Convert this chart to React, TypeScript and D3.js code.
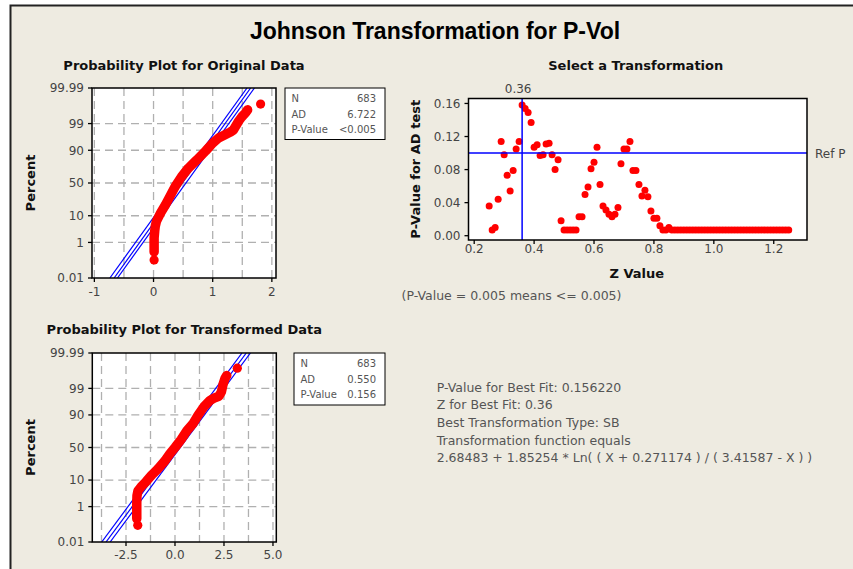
import * as d3 from "d3";

// ---- probability plot, original data ----
const origX = [0.01, 0.01, 0.01, 0.02, 0.03, 0.05, 0.12, 0.2, 0.29, 0.37, 0.47, 0.59, 0.73, 0.88, 1.0, 1.1, 1.2, 1.3, 1.35, 1.4, 1.44, 1.49, 1.55, 1.59];
const origPct = [0.35, 0.75, 1.58, 3.0, 4.6, 6.8, 12.1, 19.5, 31.9, 45.2, 59.3, 72.1, 81.6, 89.5, 94.1, 96.1, 97.0, 97.7, 98.1, 98.84, 99.24, 99.51, 99.69, 99.79];
const origOutX = [0.01, 1.81];
const origOutPct = [0.13, 99.9];
const origFitLo = [-0.738, -0.666, -0.61]; // x at 0.01 %
const origFitHi = [1.58, 1.641, 1.706]; // x at 99.99 %
const origStats = ["683", "6.722", "<0.005"];
const origTicks = [-1, 0, 1, 2];
const origGrid = [-1, -0.5, 0, 0.5, 1, 1.5, 2];

// ---- probability plot, transformed data ----
const transX = [-1.95, -1.95, -1.95, -1.94, -1.89, -1.73, -1.48, -1.17, -0.87, -0.51, -0.26, 0, 0.31, 0.61, 0.92, 1.17, 1.48, 1.79, 2.04, 2.24, 2.37, 2.45, 2.55, 2.64];
const transPct = [0.25, 0.62, 1.46, 2.87, 4.4, 6.1, 8.9, 14.2, 20.1, 30.1, 40.3, 50, 62.1, 74.6, 82.6, 89.6, 94.6, 96.8, 97.5, 97.8, 98.6, 99.34, 99.67, 99.77];
const transOutX = [-1.9, 3.18];
const transOutPct = [0.11, 99.91];
const transFitLo = [-3.74, -3.52, -3.31];
const transFitHi = [3.42, 3.64, 3.85];
const transStats = ["683", "0.550", "0.156"];
const transTicks = [-2.5, 0, 2.5, 5];
const transGrid = [-3.75, -2.5, -1.25, 0, 1.25, 2.5, 3.75, 5];

const pctTicks = [0.01, 1, 10, 50, 90, 99, 99.99];
const statLabels = ["N", "AD", "P-Value"];

// ---- select a transformation ----
const zValues = [
  0.25, 0.26, 0.27, 0.28, 0.29, 0.3, 0.31, 0.32, 0.33, 0.34, 0.35, 0.36, 0.37, 0.38, 0.39, 0.4, 0.41, 0.42, 0.43, 0.44,
  0.45, 0.46, 0.47, 0.48, 0.49, 0.5, 0.51, 0.52, 0.53, 0.54, 0.55, 0.56, 0.57, 0.58, 0.59, 0.6, 0.61, 0.62, 0.63, 0.64,
  0.65, 0.66, 0.67, 0.68, 0.69, 0.7, 0.71, 0.72, 0.73, 0.74, 0.75, 0.76, 0.77, 0.78, 0.79, 0.8, 0.81, 0.82, 0.83, 0.84,
  0.85, 0.86, 0.87, 0.88, 0.89, 0.9, 0.91, 0.92, 0.93, 0.94, 0.95, 0.96, 0.97, 0.98, 0.99, 1.0, 1.01, 1.02, 1.03, 1.04,
  1.05, 1.06, 1.07, 1.08, 1.09, 1.1, 1.11, 1.12, 1.13, 1.14, 1.15, 1.16, 1.17, 1.18, 1.19, 1.2, 1.21, 1.22, 1.23, 1.24,
  1.25,
];
const pValues = [
  0.036, 0.007, 0.01, 0.044, 0.114, 0.098, 0.073, 0.054, 0.079, 0.105, 0.114, 0.158, 0.154, 0.149, 0.137, 0.107, 0.11, 0.097, 0.098, 0.111,
  0.112, 0.098, 0.08, 0.092, 0.018, 0.007, 0.007, 0.007, 0.007, 0.007, 0.023, 0.023, 0.05, 0.059, 0.081, 0.089, 0.107, 0.062, 0.036, 0.031,
  0.026, 0.023, 0.026, 0.034, 0.087, 0.105, 0.105, 0.114, 0.079, 0.079, 0.062, 0.048, 0.055, 0.047, 0.03, 0.021, 0.021, 0.012, 0.007, 0.007,
  0.01, 0.007, 0.007, 0.007, 0.007, 0.007, 0.007, 0.007, 0.007, 0.007, 0.007, 0.007, 0.007, 0.007, 0.007, 0.007, 0.007, 0.007, 0.007, 0.007,
  0.007, 0.007, 0.007, 0.007, 0.007, 0.007, 0.007, 0.007, 0.007, 0.007, 0.007, 0.007, 0.007, 0.007, 0.007, 0.007, 0.007, 0.007, 0.007, 0.007,
  0.007,
];
const zTicks = [0.2, 0.4, 0.6, 0.8, 1.0, 1.2];
const pTicks = [0, 0.04, 0.08, 0.12, 0.16];
const bestZ = 0.36;
const refP = 0.1;

const fitText = [
  "P-Value for Best Fit: 0.156220",
  "Z for Best Fit: 0.36",
  "Best Transformation Type: SB",
  "Transformation function equals",
  "2.68483 + 1.85254 * Ln( ( X + 0.271174 ) / ( 3.41587 - X ) )",
];

const BG = "#eeebe1";
const FONT = "'DejaVu Sans', sans-serif";
const TICK = "#444";

// inverse normal cdf (Acklam)
function probit(p: number) {
  const a = [-39.69683028665376, 220.9460984245205, -275.9285104469687, 138.357751867269, -30.66479806614716, 2.506628277459239];
  const b = [-54.47609879822406, 161.5858368580409, -155.6989798598866, 66.80131188771972, -13.28068155288572];
  const c = [-0.007784894002430293, -0.3223964580411365, -2.400758277161838, -2.549732539343734, 4.374664141464968, 2.938163982698783];
  const d = [0.007784695709041462, 0.3224671290700398, 2.445134137142996, 3.754408661907416];
  const lo = 0.02425;
  if (p < lo) {
    const q = Math.sqrt(-2 * Math.log(p));
    return (((((c[0] * q + c[1]) * q + c[2]) * q + c[3]) * q + c[4]) * q + c[5]) / ((((d[0] * q + d[1]) * q + d[2]) * q + d[3]) * q + 1);
  }
  if (p > 1 - lo) return -probit(1 - p);
  const q = p - 0.5;
  const r = q * q;
  return ((((((a[0] * r + a[1]) * r + a[2]) * r + a[3]) * r + a[4]) * r + a[5]) * q) / (((((b[0] * r + b[1]) * r + b[2]) * r + b[3]) * r + b[4]) * r + 1);
}
const zMax = probit(0.9999);

function ProbPlot(props: any) {
  const { id, left, right, top, bottom, xDomain, xTicks, xGrid, xFmt, xs, pcts, outX, outPct, fitLo, fitHi, stats, box, title, titleY, labelY } = props;
  const x = d3.scaleLinear().domain(xDomain).range([left, right]);
  const yz = d3.scaleLinear().domain([-zMax, zMax]).range([bottom, top]);
  const y = (p: number) => yz(probit(p / 100));
  const line = d3
    .line<number>()
    .x((v) => x(v))
    .y((_, i) => y(pcts[i]));

  return (
    <g>
      <text x={(left + right) / 2} y={titleY} textAnchor="middle" fontWeight="bold" fontSize={13} fill="#111">
        {title}
      </text>
      <rect x={left} y={top} width={right - left} height={bottom - top} fill="#fff" />
      <clipPath id={id}>
        <rect x={left} y={top} width={right - left} height={bottom - top} />
      </clipPath>
      {xGrid.map((v: number) => (
        <line key={"gx" + v} x1={x(v)} x2={x(v)} y1={top} y2={bottom} stroke="#b0b0b0" strokeWidth={1.3} strokeDasharray="8,5" />
      ))}
      {pctTicks.slice(1, -1).map((p) => (
        <line key={"gy" + p} x1={left} x2={right} y1={y(p)} y2={y(p)} stroke="#b0b0b0" strokeWidth={1.3} strokeDasharray="8,5" />
      ))}
      <g clipPath={`url(#${id})`}>
        {fitLo.map((v: number, i: number) => (
          <line key={"f" + i} x1={x(v)} y1={y(0.01)} x2={x(fitHi[i])} y2={y(99.99)} stroke="#0000ff" strokeWidth={1.2} />
        ))}
        <path d={line(xs) || ""} fill="none" stroke="#ff0000" strokeWidth={9.5} strokeLinecap="round" strokeLinejoin="round" />
        {outX.map((v: number, i: number) => (
          <circle key={"o" + i} cx={x(v)} cy={y(outPct[i])} r={4.6} fill="#ff0000" />
        ))}
      </g>
      <rect x={left} y={top} width={right - left} height={bottom - top} fill="none" stroke="#000" strokeWidth={1.5} />
      {pctTicks.map((p) => (
        <g key={"ty" + p}>
          <line x1={left - 4} x2={left} y1={y(p)} y2={y(p)} stroke="#000" strokeWidth={1.3} />
          <text x={left - 8} y={y(p) + 4.4} textAnchor="end" fontSize={12} fill={TICK}>
            {String(p)}
          </text>
        </g>
      ))}
      {xTicks.map((v: number) => (
        <g key={"tx" + v}>
          <line x1={x(v)} x2={x(v)} y1={bottom} y2={bottom + 4} stroke="#000" strokeWidth={1.3} />
          <text x={x(v)} y={bottom + labelY} textAnchor="middle" fontSize={12} fill={TICK}>
            {xFmt(v)}
          </text>
        </g>
      ))}
      <text
        transform={`translate(${35},${(top + bottom) / 2}) rotate(-90)`}
        textAnchor="middle"
        fontWeight="bold"
        fontSize={13}
        fill="#111"
      >
        Percent
      </text>
      <rect x={box.x} y={top} width={385 - box.x} height={box.h} fill="#fff" stroke="#000" strokeWidth={1} />
      {statLabels.map((s, i) => (
        <g key={s}>
          <text x={box.x + 6.5} y={top + 14 + i * 15.7} fontSize={10} fill="#555">
            {s}
          </text>
          <text x={376} y={top + 14 + i * 15.7} fontSize={10} fill="#555" textAnchor="end">
            {stats[i]}
          </text>
        </g>
      ))}
    </g>
  );
}

function SelectPlot() {
  const left = 468.5;
  const right = 807;
  const top = 98.5;
  const bottom = 240;
  const x = d3.scaleLinear().domain([0.181, 1.311]).range([left, right]);
  const y = d3.scaleLinear().domain([-0.0052, 0.166]).range([bottom, top]);
  return (
    <g>
      <text x={(left + right) / 2 - 2} y={70} textAnchor="middle" fontWeight="bold" fontSize={13} fill="#111">
        Select a Transformation
      </text>
      <rect x={left} y={top} width={right - left} height={bottom - top} fill="#fff" />
      {zValues.map((z, i) => (
        <circle key={i} cx={x(z)} cy={y(pValues[i])} r={3.5} fill="#ff0000" />
      ))}
      <line x1={left} x2={right} y1={y(refP)} y2={y(refP)} stroke="#0000ff" strokeWidth={1.5} />
      <line x1={x(bestZ)} x2={x(bestZ)} y1={top} y2={bottom} stroke="#0000ff" strokeWidth={1.5} />
      <rect x={left} y={top} width={right - left} height={bottom - top} fill="none" stroke="#000" strokeWidth={1.5} />
      <text x={x(bestZ) - 4} y={93} textAnchor="middle" fontSize={12} fill={TICK}>
        {bestZ.toFixed(2)}
      </text>
      <text x={815} y={157.5} fontSize={12} fill={TICK}>
        Ref P
      </text>
      {pTicks.map((p) => (
        <g key={"py" + p}>
          <line x1={left - 4} x2={left} y1={y(p)} y2={y(p)} stroke="#000" strokeWidth={1.3} />
          <text x={left - 8} y={y(p) + 4.4} textAnchor="end" fontSize={12} fill={TICK}>
            {p.toFixed(2)}
          </text>
        </g>
      ))}
      {zTicks.map((z) => (
        <g key={"zx" + z}>
          <line x1={x(z)} x2={x(z)} y1={bottom} y2={bottom + 4} stroke="#000" strokeWidth={1.3} />
          <text x={x(z)} y={bottom + 12.5} textAnchor="middle" fontSize={12} fill={TICK}>
            {z.toFixed(1)}
          </text>
        </g>
      ))}
      <text x={(left + right) / 2 - 1} y={278} textAnchor="middle" fontWeight="bold" fontSize={13} fill="#111">
        Z Value
      </text>
      <text transform={`translate(${420},${(top + bottom) / 2}) rotate(-90)`} textAnchor="middle" fontWeight="bold" fontSize={13} fill="#111">
        P-Value for AD test
      </text>
      <text x={401.5} y={300} fontSize={12.5} fill="#555">
        (P-Value = 0.005 means &lt;= 0.005)
      </text>
    </g>
  );
}

export default function App() {
  return (
    <svg width={853} height={569} style={{ position: "absolute", left: 0, top: 0 }} fontFamily={FONT}>
      <rect x={0} y={0} width={853} height={569} fill="#fff" />
      <rect x={10.5} y={5.5} width={900} height={600} fill={BG} stroke="#222" strokeWidth={2} />
      <text x={435} y={39.3} textAnchor="middle" fontFamily="'Liberation Sans', Arial, sans-serif" fontWeight="bold" fontSize={23} fill="#000">
        Johnson Transformation for P-Vol
      </text>
      <ProbPlot
        id="clip1"
        left={92}
        right={276}
        top={88}
        bottom={278}
        xDomain={[-1.04, 2.07]}
        xTicks={origTicks}
        xGrid={origGrid}
        xFmt={(v: number) => String(v)}
        xs={origX}
        pcts={origPct}
        outX={origOutX}
        outPct={origOutPct}
        fitLo={origFitLo}
        fitHi={origFitHi}
        stats={origStats}
        box={{ x: 285, h: 51.5 }}
        title="Probability Plot for Original Data"
        titleY={70}
        labelY={18}
      />
      <ProbPlot
        id="clip2"
        left={92.3}
        right={276.3}
        top={353}
        bottom={542}
        xDomain={[-4.22, 5.17]}
        xTicks={transTicks}
        xGrid={transGrid}
        xFmt={(v: number) => v.toFixed(1)}
        xs={transX}
        pcts={transPct}
        outX={transOutX}
        outPct={transOutPct}
        fitLo={transFitLo}
        fitHi={transFitHi}
        stats={transStats}
        box={{ x: 294, h: 52 }}
        title="Probability Plot for Transformed Data"
        titleY={334}
        labelY={17}
      />
      <SelectPlot />
      {fitText.map((t, i) => (
        <text key={i} x={436.7} y={391.7 + i * 17.6} fontSize={12.5} fill="#555">
          {t}
        </text>
      ))}
    </svg>
  );
}
